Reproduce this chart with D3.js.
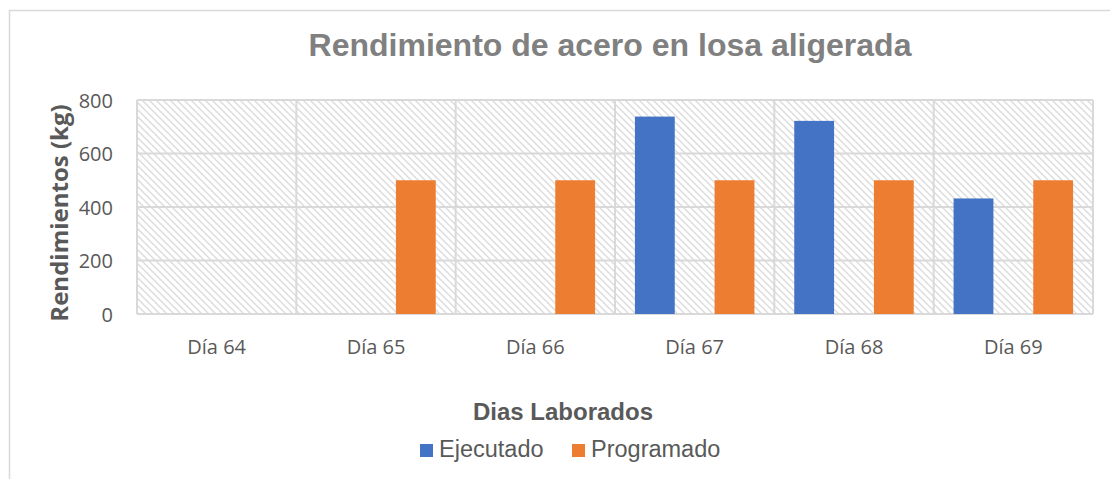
<!DOCTYPE html>
<meta charset="utf-8">
<script src="https://cdnjs.cloudflare.com/ajax/libs/d3/7.8.5/d3.min.js"></script>
<style>
body { margin: 0; background: #fff; }
</style>
<body>
<script>
// chart values
var dias = ["Día 64", "Día 65", "Día 66", "Día 67", "Día 68", "Día 69"];
var series = ["Ejecutado", "Programado"];
var ejecutado = [0, 0, 0, 738, 722, 432];
var programado = [0, 500, 500, 500, 500, 500];
var yTicks = [0, 200, 400, 600, 800];
var colors = ["#4472C4", "#ED7D31"];

var w = 1110, h = 479;
var plotL = 137, plotR = 1093, plotT = 100, plotB = 314;

var svg = d3.select("body").append("svg")
    .attr("width", w)
    .attr("height", h);

// hatch pattern for plot area
var defs = svg.append("defs");
var pat = defs.append("pattern")
    .attr("id", "hatch")
    .attr("patternUnits", "userSpaceOnUse")
    .attr("width", 7).attr("height", 7);
pat.append("rect").attr("width", 7).attr("height", 7).attr("fill", "#fff");
pat.append("path")
    .attr("d", "M-1,-1 L8,8 M-1,6 L1,8 M6,-1 L8,1")
    .attr("stroke", "#dcdcdc").attr("stroke-width", 1.4);

// outer frame
svg.append("path")
    .attr("d", "M9.5," + h + " L9.5,10.5 L" + w + ",10.5")
    .attr("fill", "none").attr("stroke", "#d9d9d9").attr("stroke-width", 1.5);

// scales
var x0 = d3.scaleBand().domain(dias).range([plotL, plotR]).padding(0);
var x1 = d3.scaleBand().domain(series).range([0, x0.bandwidth()])
    .paddingInner(0.5).paddingOuter(0.25);
var y = d3.scaleLinear().domain([0, 800]).range([plotB, plotT]);

// plot background
svg.append("rect")
    .attr("x", plotL).attr("y", plotT)
    .attr("width", plotR - plotL).attr("height", plotB - plotT)
    .attr("fill", "url(#hatch)");

// horizontal gridlines
svg.append("g").selectAll("line").data(yTicks).enter().append("line")
    .attr("x1", plotL).attr("x2", plotR)
    .attr("y1", function(d){ return y(d); })
    .attr("y2", function(d){ return y(d); })
    .attr("stroke", "#d9d9d9").attr("stroke-width", 2);

// vertical gridlines at category edges
var edges = dias.map(function(d){ return x0(d); }).concat([plotR]);
svg.append("g").selectAll("line").data(edges).enter().append("line")
    .attr("x1", function(d){ return d; }).attr("x2", function(d){ return d; })
    .attr("y1", plotT).attr("y2", plotB)
    .attr("stroke", "#d9d9d9").attr("stroke-width", 2);

// bars
var rows = dias.map(function(d, i){
  return { dia: d, vals: [ejecutado[i], programado[i]] };
});
var groups = svg.append("g").selectAll("g").data(rows).enter().append("g")
    .attr("transform", function(d){ return "translate(" + x0(d.dia) + ",0)"; });
groups.selectAll("rect")
    .data(function(d){ return d.vals.map(function(v, j){ return { s: series[j], v: v, c: colors[j] }; }); })
    .enter().append("rect")
    .filter(function(d){ return d.v > 0; })
    .attr("x", function(d){ return x1(d.s); })
    .attr("width", x1.bandwidth())
    .attr("y", function(d){ return y(d.v); })
    .attr("height", function(d){ return y(0) - y(d.v); })
    .attr("fill", function(d){ return d.c; });

// y axis labels
var yAxis = d3.axisLeft(y).tickValues(yTicks).tickSize(0).tickPadding(0);
var gy = svg.append("g")
    .attr("transform", "translate(113,0)")
    .call(yAxis);
gy.select(".domain").remove();
gy.selectAll("text")
    .attr("dy", "0.35em")
    .style("font-family", "'Open Sans'")
    .style("font-size", "20px")
    .attr("fill", "#595959");

// x axis labels
var xAxis = d3.axisBottom(x0).tickSize(0).tickPadding(0);
var gx = svg.append("g")
    .attr("transform", "translate(0,354)")
    .call(xAxis);
gx.select(".domain").remove();
gx.selectAll("text")
    .attr("dy", 0)
    .style("font-family", "'Open Sans'")
    .style("font-size", "20px")
    .attr("fill", "#595959");

// title
svg.append("text")
    .attr("x", 610).attr("y", 56)
    .attr("text-anchor", "middle")
    .style("font-family", "'Liberation Sans', Arial")
    .style("font-weight", "bold")
    .style("font-size", "32px")
    .attr("fill", "#808080")
    .text("Rendimiento de acero en losa aligerada");

// y title
svg.append("text")
    .attr("transform", "translate(68,213) rotate(-90)")
    .attr("text-anchor", "middle")
    .style("font-family", "'Open Sans'")
    .style("font-weight", "bold")
    .style("font-size", "24px")
    .attr("fill", "#595959")
    .text("Rendimientos (kg)");

// x title
svg.append("text")
    .attr("x", 563).attr("y", 420)
    .attr("text-anchor", "middle")
    .style("font-family", "'Liberation Sans', Arial")
    .style("font-weight", "bold")
    .style("font-size", "24px")
    .attr("fill", "#595959")
    .text("Dias Laborados");

// legend
var legX = [420, 572];
var leg = svg.append("g").selectAll("g").data(series).enter().append("g")
    .attr("transform", function(d, i){ return "translate(" + legX[i] + ",0)"; });
leg.append("rect")
    .attr("x", 0).attr("y", 444)
    .attr("width", 13).attr("height", 13)
    .attr("fill", function(d, i){ return colors[i]; });
leg.append("text")
    .attr("x", 19).attr("y", 457)
    .style("font-family", "'Liberation Sans', Arial")
    .style("font-size", "23.5px")
    .attr("fill", "#595959")
    .text(function(d){ return d; });
</script>
</body>
</html>
